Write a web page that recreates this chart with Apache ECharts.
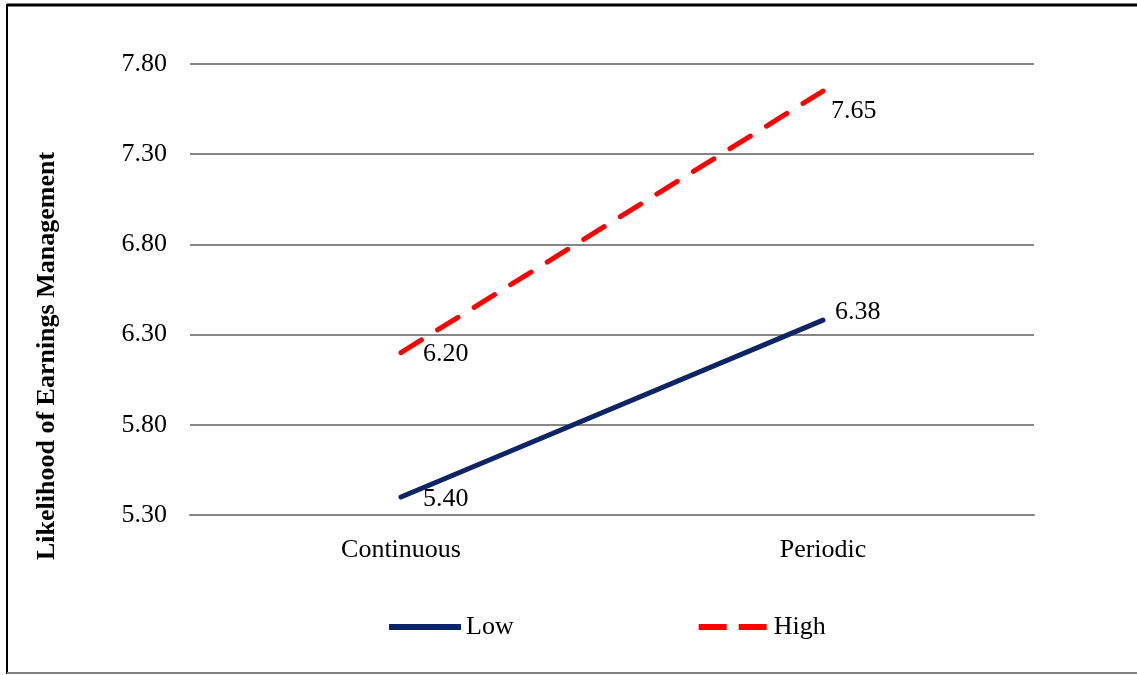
<!DOCTYPE html>
<html>
<head>
<meta charset="utf-8">
<script src="https://cdn.jsdelivr.net/npm/echarts@6/dist/echarts.min.js"></script>
<style>html,body{margin:0;padding:0;background:#fff;}#c{width:1137px;height:675px;}</style>
</head>
<body>
<div id="c"></div>
<script>
const categories = ['Continuous', 'Periodic'];
const lowValues = [5.40, 6.38];
const highValues = [6.20, 7.65];
const seriesNames = ['Low', 'High'];
const yAxisTitle = 'Likelihood of Earnings Management';
const yMin = 5.3, yMax = 7.8, yStep = 0.5;

const FONT = '"Liberation Serif", "Times New Roman", serif';
const FS = 26;
const chart = echarts.init(document.getElementById('c'));

const lowLabelPlace = [{ d: 22, o: [0, 2] }, { d: 12, o: [0, -8] }];
const highLabelPlace = [{ d: 22, o: [0, 2] }, { d: 8, o: [0, 20] }];

function mkData(vals, place) {
  return vals.map((v, i) => ({
    value: v,
    label: { show: true, position: 'right', distance: place[i].d, offset: place[i].o }
  }));
}

chart.setOption({
  animation: false,
  backgroundColor: '#fff',
  grid: { left: 190, right: 103, top: 64, bottom: 160, containLabel: false },
  xAxis: {
    type: 'category',
    data: categories,
    boundaryGap: true,
    axisLine: { show: true, lineStyle: { color: '#868686', width: 2 } },
    axisTick: { show: false },
    axisLabel: { color: '#000', fontFamily: FONT, fontSize: FS, margin: 22 }
  },
  yAxis: {
    type: 'value',
    min: yMin, max: yMax, interval: yStep,
    axisLine: { show: false },
    axisTick: { show: false },
    splitLine: { show: true, lineStyle: { color: '#868686', width: 2 } },
    axisLabel: { color: '#000', fontFamily: FONT, fontSize: FS, margin: 23,
      formatter: v => v.toFixed(2) }
  },
  legend: {
    left: 384, top: 609,
    itemWidth: 72, itemHeight: 6, itemGap: 185,
    textStyle: { color: '#000', fontFamily: FONT, fontSize: FS },
    data: [
      { name: seriesNames[0], icon: 'path://M0,0H72V6H0Z', itemStyle: { color: '#0B2566' } },
      { name: seriesNames[1], icon: 'path://M0,0H28V6H0Z M40,0H68V6H40Z', itemStyle: { color: '#FF0000' } }
    ]
  },
  series: [
    {
      name: seriesNames[0], type: 'line', data: mkData(lowValues, lowLabelPlace),
      symbol: 'circle', symbolSize: 0.1, showSymbol: true,
      lineStyle: { color: '#0B2566', width: 5, cap: 'round' },
      itemStyle: { color: '#0B2566' },
      label: { color: '#000', fontFamily: FONT, fontSize: FS, formatter: p => p.value.toFixed(2) }
    },
    {
      name: seriesNames[1], type: 'line', data: mkData(highValues, highLabelPlace),
      symbol: 'circle', symbolSize: 0.1, showSymbol: true,
      lineStyle: { color: '#FF0000', width: 5, type: [24, 19], cap: 'round' },
      itemStyle: { color: '#FF0000' },
      label: { color: '#000', fontFamily: FONT, fontSize: FS, formatter: p => p.value.toFixed(2) }
    }
  ],
  graphic: [
    { type: 'line', shape: { x1: 7, y1: 5, x2: 1137, y2: 5 }, style: { stroke: '#000', lineWidth: 3 } },
    { type: 'line', shape: { x1: 7, y1: 4, x2: 7, y2: 674 }, style: { stroke: '#000', lineWidth: 2 } },
    { type: 'line', shape: { x1: 7, y1: 673, x2: 1137, y2: 673 }, style: { stroke: '#808080', lineWidth: 2 } },
    {
      type: 'text', x: 47, y: 356, rotation: Math.PI / 2,
      style: { text: yAxisTitle, font: 'bold 26px ' + FONT, fill: '#000', textAlign: 'center', textVerticalAlign: 'middle' }
    }
  ]
});
</script>
</body>
</html>
